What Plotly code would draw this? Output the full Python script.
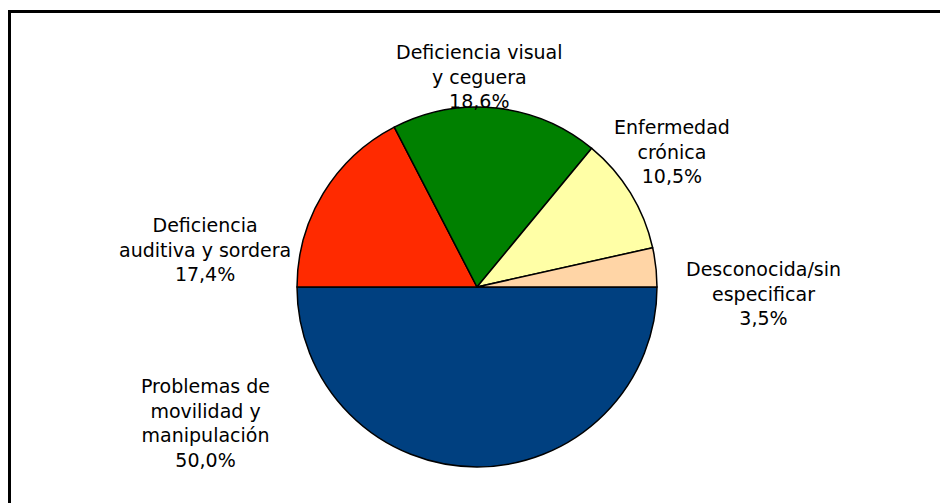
import plotly.graph_objects as go

categories = ["Problemas de<br>movilidad y<br>manipulación",
              "Deficiencia<br>auditiva y sordera",
              "Deficiencia visual<br>y ceguera",
              "Enfermedad<br>crónica",
              "Desconocida/sin<br>especificar"]
values = [50.0, 17.4, 18.6, 10.5, 3.5]
colors = ["#004080", "#FF2A00", "#008000", "#FFFFA6", "#FFD5A6"]

# page offset from default body margin
OFF = 8
# label layout positions (pixels in page): centre x, centre y
label_pos = [(205, 423), (205, 249), (480, 76), (672, 151), (763, 293)]

W, H = 940, 495
cx, cy, r = 477 - OFF, 287 - OFF, 180

fig = go.Figure(go.Pie(
    labels=categories,
    values=values,
    sort=False,
    direction="clockwise",
    rotation=90,
    marker=dict(colors=colors, line=dict(color="black", width=1.5)),
    textinfo="none",
    hoverinfo="label+percent",
    domain=dict(x=[(cx - r) / W, (cx + r) / W], y=[(H - cy - r) / H, (H - cy + r) / H]),
    showlegend=False,
))

annotations = []
for cat, v, (px, py) in zip(categories, values, label_pos):
    txt = f"{cat}<br>{v:.1f}%".replace(".", ",")
    annotations.append(dict(
        x=(px - OFF) / W, y=1 - (py - OFF) / H, xref="paper", yref="paper",
        text=txt, showarrow=False, xanchor="center", yanchor="middle",
        align="center", font=dict(family="DejaVu Sans", size=19, color="black"),
    ))

fig.update_layout(
    width=W, height=H,
    margin=dict(l=0, r=0, t=0, b=0),
    paper_bgcolor="white", plot_bgcolor="white",
    annotations=annotations,
    shapes=[dict(type="rect", xref="paper", yref="paper",
                 x0=(9.5 - OFF) / W, x1=1.05, y0=-0.05, y1=1 - (11.5 - OFF) / H,
                 line=dict(color="black", width=3))],
)

fig.write_html("out.html")
